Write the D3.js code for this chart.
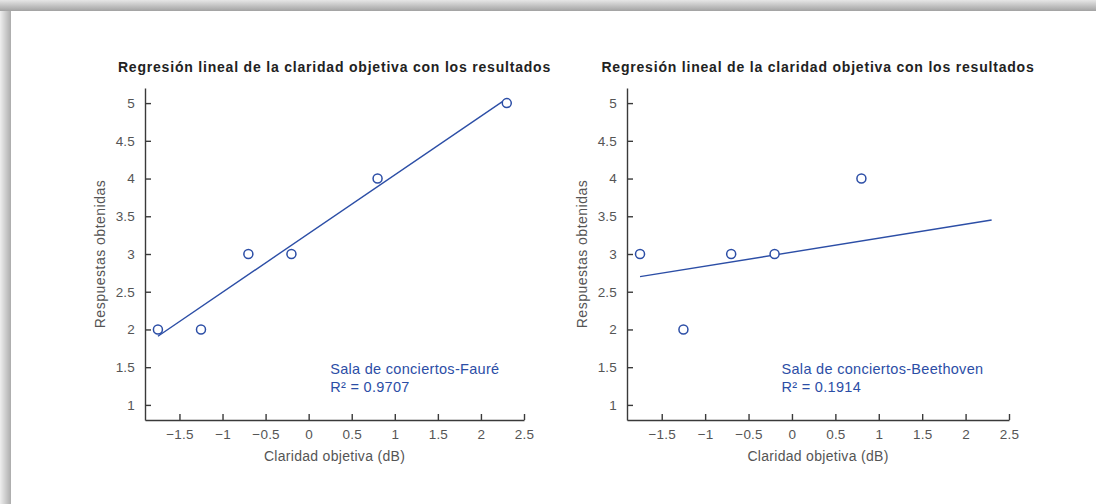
<!DOCTYPE html>
<html>
<head>
<meta charset="utf-8">
<script src="https://cdn.jsdelivr.net/npm/d3@7"></script>
<style>
  html, body { margin: 0; padding: 0; background: #fff; }
  svg { display: block; font-family: "Liberation Sans", Arial, sans-serif; }
  .axis path, .axis line { stroke: #3a3a3a; stroke-width: 1.4; }
  .axis text { fill: #555; font-size: 13.5px; letter-spacing: 0.2px; }
</style>
</head>
<body>
<svg id="chart" width="1096" height="504"></svg>
<script>
'use strict';

// Data.
var titleText = 'Regresión lineal de la claridad objetiva con los resultados';
var xLabel = 'Claridad objetiva (dB)';
var yLabel = 'Respuestas obtenidas';
var xTicks = [-1.5, -1, -0.5, 0, 0.5, 1, 1.5, 2, 2.5];
var yTicks = [1, 1.5, 2, 2.5, 3, 3.5, 4, 4.5, 5];

var faureX = [-1.75, -1.25, -0.7, -0.2, 0.8, 2.3];
var faureY = [2, 2, 3, 3, 4, 5];
var faureFit = [[-1.75, 1.91], [2.3, 5.06]];
var faureNote = ['Sala de conciertos-Fauré', 'R² = 0.9707'];

var beethovenX = [-1.75, -1.25, -0.7, -0.2, 0.8];
var beethovenY = [3, 2, 3, 3, 4];
var beethovenFit = [[-1.75, 2.70], [2.3, 3.45]];
var beethovenNote = ['Sala de conciertos-Beethoven', 'R² = 0.1914'];

var blue = '#2c4ea6';
var svg = d3.select('#chart');

// Page shadow along the top and left edges.
var defs = svg.append('defs');
var gTop = defs.append('linearGradient').attr('id', 'shTop')
    .attr('x1', 0).attr('y1', 0).attr('x2', 0).attr('y2', 1);
gTop.append('stop').attr('offset', '0%').attr('stop-color', '#e6e6e6');
gTop.append('stop').attr('offset', '100%').attr('stop-color', '#a2a2a2');
var gLeft = defs.append('linearGradient').attr('id', 'shLeft')
    .attr('x1', 0).attr('y1', 0).attr('x2', 1).attr('y2', 0);
gLeft.append('stop').attr('offset', '0%').attr('stop-color', '#eeeeee');
gLeft.append('stop').attr('offset', '100%').attr('stop-color', '#acacac');
svg.append('rect').attr('x', 0).attr('y', 0).attr('width', 11).attr('height', 504)
    .attr('fill', 'url(#shLeft)');
svg.append('rect').attr('x', 0).attr('y', 0).attr('width', 1096).attr('height', 11)
    .attr('fill', 'url(#shTop)');

function drawPanel(left, right, xs, ys, fit, note, noteX) {
    var top = 88, bottom = 420;
    var x = d3.scaleLinear().domain([-1.9, 2.5]).range([left, right]);
    var y = d3.scaleLinear().domain([0.8, 5.2]).range([bottom, top]);
    var g = svg.append('g');

    g.append('text')
        .attr('x', (left + right) / 2)
        .attr('y', 72)
        .attr('text-anchor', 'middle')
        .attr('font-size', '14px')
        .attr('font-weight', 'bold')
        .attr('letter-spacing', '0.8px')
        .attr('fill', '#222')
        .text(titleText);

    g.append('g')
        .attr('class', 'axis')
        .attr('transform', 'translate(0,' + bottom + ')')
        .call(d3.axisBottom(x).tickValues(xTicks).tickFormat(d3.format(''))
            .tickSizeInner(-6).tickSizeOuter(0).tickPadding(9));

    g.append('g')
        .attr('class', 'axis')
        .attr('transform', 'translate(' + left + ',0)')
        .call(d3.axisLeft(y).tickValues(yTicks).tickFormat(d3.format(''))
            .tickSizeInner(-6).tickSizeOuter(0).tickPadding(10));

    g.append('text')
        .attr('x', (left + right) / 2)
        .attr('y', 461)
        .attr('text-anchor', 'middle')
        .attr('font-size', '14px')
        .attr('letter-spacing', '0.3px')
        .attr('fill', '#555')
        .text(xLabel);

    g.append('text')
        .attr('transform', 'translate(' + (left - 40) + ',' + ((top + bottom) / 2) + ') rotate(-90)')
        .attr('text-anchor', 'middle')
        .attr('font-size', '14px')
        .attr('letter-spacing', '0.5px')
        .attr('fill', '#555')
        .text(yLabel);

    // Regression line.
    g.append('path')
        .datum(fit)
        .attr('fill', 'none')
        .attr('stroke', blue)
        .attr('stroke-width', 1.4)
        .attr('d', d3.line().x(function(d) { return x(d[0]); }).y(function(d) { return y(d[1]); }));

    // Observed points.
    g.selectAll('circle.pt')
        .data(d3.zip(xs, ys))
        .enter()
        .append('circle')
        .attr('class', 'pt')
        .attr('cx', function(d) { return x(d[0]); })
        .attr('cy', function(d) { return y(d[1]); })
        .attr('r', 4.5)
        .attr('fill', 'white')
        .attr('stroke', blue)
        .attr('stroke-width', 1.5);

    var t = g.append('text')
        .attr('x', x(noteX))
        .attr('y', y(1.41))
        .attr('font-size', '14.5px')
        .attr('letter-spacing', '0.3px')
        .attr('fill', blue);
    t.append('tspan').text(note[0]);
    t.append('tspan').attr('x', x(noteX)).attr('dy', 18).text(note[1]);
}

drawPanel(145, 524, faureX, faureY, faureFit, faureNote, 0.25);
drawPanel(627, 1009, beethovenX, beethovenY, beethovenFit, beethovenNote, -0.12);
</script>
</body>
</html>
